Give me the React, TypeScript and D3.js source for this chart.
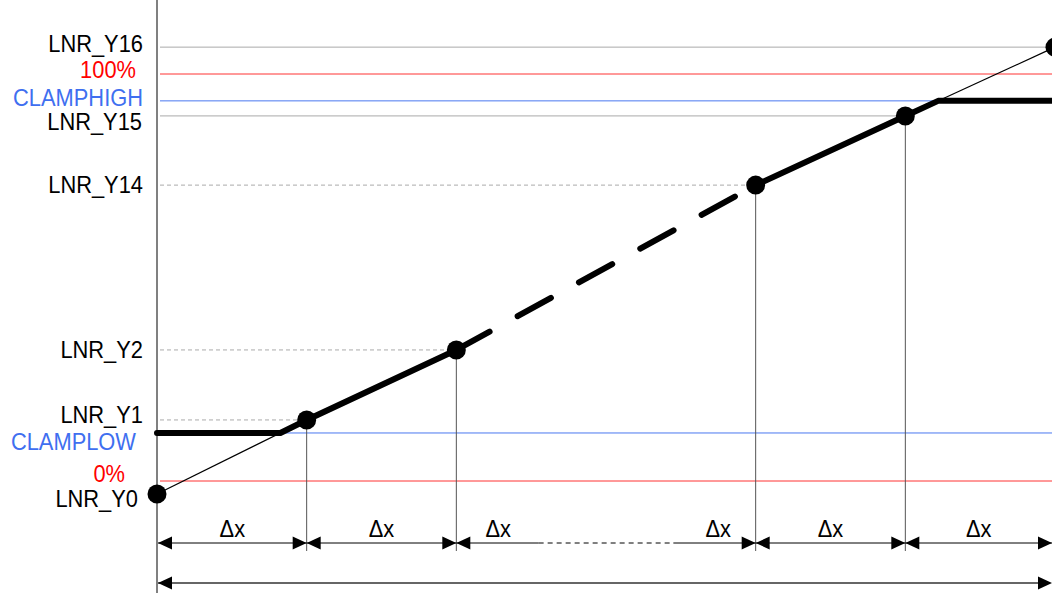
import React from "react";
import * as d3 from "d3";

// knots of the piecewise-linear curve, position in Δx steps and output level (0% = 0, 100% = 100)
const knotNames = ["LNR_Y0", "LNR_Y1", "LNR_Y2", "LNR_Y14", "LNR_Y15", "LNR_Y16"];
const knotSteps = [0, 1, 2, 4, 5, 6];
const knotValues = [-3.2, 15.0, 32.2, 72.7, 89.7, 106.6];

const clampNames = ["CLAMPLOW", "CLAMPHIGH"];
const clampValues = [11.8, 93.4];

const percentNames = ["0%", "100%"];
const percentValues = [0, 100];

const W = 1052;
const H = 593;
const FONT = "'Liberation Sans', Arial, Helvetica, sans-serif";
const FS = 23.5;
const SX = 0.93;

// label nudges (right edge x, dy of baseline from the line)
const labelNudge: Record<string, [number, number]> = {
  LNR_Y16: [143, 5],
  "100%": [136, 4],
  CLAMPHIGH: [143, 5],
  LNR_Y15: [142, 14],
  LNR_Y14: [143, 8],
  LNR_Y2: [143, 8],
  LNR_Y1: [143, 3],
  CLAMPLOW: [136, 17],
  "0%": [125, 1],
  LNR_Y0: [138, 13],
};

function arrow(tx: number, ty: number, dir: number) {
  const l = 14;
  const h = 6.5;
  return `M${tx},${ty}L${tx - dir * l},${ty - h}L${tx - dir * l},${ty + h}Z`;
}

function Txt({ x, y, anchor, color, children }: any) {
  return (
    <text
      transform={`translate(${x},${y}) scale(${SX},1)`}
      textAnchor={anchor}
      fill={color}
      fontSize={FS}
      fontFamily={FONT}
    >
      {children}
    </text>
  );
}

export default function App() {
  const x = d3.scaleLinear().domain([0, 6]).range([157, 1055]);
  const y = d3.scaleLinear().domain([0, 100]).range([481, 74]);
  const dx = x(1) - x(0);

  const pts = knotSteps.map((s, i) => [x(s), y(knotValues[i])] as [number, number]);

  // where the unclamped curve meets the clamp levels
  const lowT = (clampValues[0] - knotValues[0]) / (knotValues[1] - knotValues[0]);
  const lowX = pts[0][0] + lowT * (pts[1][0] - pts[0][0]);
  const highT = (clampValues[1] - knotValues[4]) / (knotValues[5] - knotValues[4]);
  const highX = pts[4][0] + highT * (pts[5][0] - pts[4][0]);

  const line = d3.line();
  const lowPath = line([[x(0), y(clampValues[0])], [lowX, y(clampValues[0])], pts[1], pts[2]]);
  const midPath = line([pts[2], pts[3]]);
  const highPath = line([pts[3], pts[4], [highX, y(clampValues[1])], [W, y(clampValues[1])]]);

  const dimY = 543;
  const segs: [number, number][] = [];
  for (let i = 0; i < knotSteps.length - 1; i++) segs.push([knotSteps[i], knotSteps[i + 1]]);

  const label = (name: string, value: number, color: string) => {
    const [lx, dy] = labelNudge[name];
    return (
      <Txt key={name} x={lx} y={y(value) + dy} anchor="end" color={color}>
        {name}
      </Txt>
    );
  };

  return (
    <svg width={W} height={H} style={{ position: "fixed", left: 0, top: 0, background: "#fff" }}>
      {/* reference levels */}
      <line x1={160} x2={W} y1={pts[5][1]} y2={pts[5][1]} stroke="#aaa" strokeWidth={1} />
      <line x1={160} x2={pts[4][0]} y1={pts[4][1]} y2={pts[4][1]} stroke="#aaa" strokeWidth={1} />
      {[1, 2, 3].map((i) => (
        <line key={i} x1={160} x2={pts[i][0]} y1={pts[i][1]} y2={pts[i][1]} stroke="#aaa" strokeWidth={1} strokeDasharray="4 3" />
      ))}
      {percentValues.map((v) => (
        <line key={"p" + v} x1={160} x2={W} y1={y(v)} y2={y(v)} stroke="#f33" strokeWidth={1} />
      ))}
      {clampValues.map((v) => (
        <line key={"c" + v} x1={160} x2={W} y1={y(v)} y2={y(v)} stroke="#4a78f0" strokeWidth={1} />
      ))}

      {/* drop lines */}
      {[1, 2, 3, 4].map((i) => (
        <line key={"d" + i} x1={pts[i][0]} x2={pts[i][0]} y1={pts[i][1]} y2={551} stroke="#555" strokeWidth={1} />
      ))}

      {/* axis */}
      <line x1={157} x2={157} y1={0} y2={H} stroke="#808080" strokeWidth={2} />

      {/* unclamped thin lines */}
      <path d={line([pts[0], pts[1]]) || ""} stroke="#000" strokeWidth={1.2} fill="none" />
      <path d={line([pts[4], pts[5]]) || ""} stroke="#000" strokeWidth={1.2} fill="none" />

      {/* clamped curve */}
      <path d={lowPath || ""} stroke="#000" strokeWidth={6} fill="none" strokeLinecap="round" strokeLinejoin="round" />
      <path d={midPath || ""} stroke="#000" strokeWidth={6} fill="none" strokeLinecap="round" strokeDasharray="38 32" />
      <path d={highPath || ""} stroke="#000" strokeWidth={6} fill="none" strokeLinecap="round" strokeLinejoin="round" />

      {pts.map((p, i) => (
        <circle key={"k" + i} cx={p[0]} cy={p[1]} r={9.5} fill="#000" />
      ))}

      {/* Δx dimensions */}
      {segs.map(([a, b], i) => {
        const xa = x(a) + (i === 0 ? 1 : 0);
        const xb = x(b) - (i === segs.length - 1 ? 3 : 0);
        const long = b - a > 1;
        return (
          <g key={"s" + i}>
            {long ? (
              <>
                <line x1={xa} x2={xa + 0.55 * dx} y1={dimY} y2={dimY} stroke="#000" strokeWidth={1} />
                <line x1={xa + 0.55 * dx} x2={xb - 0.55 * dx} y1={dimY} y2={dimY} stroke="#000" strokeWidth={1} strokeDasharray="5 4" />
                <line x1={xb - 0.55 * dx} x2={xb} y1={dimY} y2={dimY} stroke="#000" strokeWidth={1} />
              </>
            ) : (
              <line x1={xa} x2={xb} y1={dimY} y2={dimY} stroke="#000" strokeWidth={1} />
            )}
            <path d={arrow(xa, dimY, -1)} fill="#000" />
            <path d={arrow(xb, dimY, 1)} fill="#000" />
            {(long ? [xa + 0.28 * dx, xb - 0.25 * dx] : [(xa + xb) / 2]).map((cx, j) => (
              <Txt key={j} x={cx} y={dimY - 6} anchor="middle" color="#000">
                Δx
              </Txt>
            ))}
          </g>
        );
      })}

      {/* full range */}
      <line x1={158} x2={W - 2} y1={583} y2={583} stroke="#666" strokeWidth={2} />
      <path d={arrow(158, 583, -1)} fill="#000" />
      <path d={arrow(W, 583, 1)} fill="#000" />

      {/* labels */}
      {knotNames.map((n, i) => label(n, knotValues[i], "#000"))}
      {percentNames.map((n, i) => label(n, percentValues[i], "#f00"))}
      {clampNames.map((n, i) => label(n, clampValues[i], "#3f6ff0"))}
    </svg>
  );
}
